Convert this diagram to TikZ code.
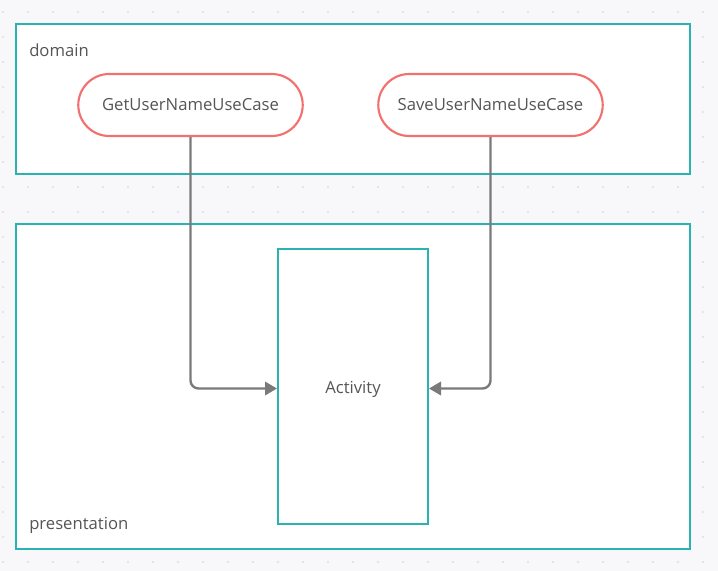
\documentclass[tikz,border=0pt]{standalone}
\usepackage{fontspec}
\setmainfont{Open Sans}
\usetikzlibrary{arrows.meta,positioning,shapes.misc}
\definecolor{BoxTeal}{HTML}{2BB3B1}
\definecolor{PillRed}{HTML}{F2716F}
\definecolor{LinkGray}{HTML}{7A7A7A}
\definecolor{TextGray}{HTML}{555555}
\definecolor{CanvasBg}{HTML}{F8F8FA}
\definecolor{GridDot}{HTML}{DDDDE4}

\tikzset{
  layerbox/.style={draw=BoxTeal, fill=white, line width=1.5pt, minimum width=505.5pt},
  usecase/.style={rounded rectangle, draw=PillRed, fill=white, line width=1.6pt,
                  minimum width=175pt, minimum height=46.5pt,
                  font=\fontsize{12.5}{14}\selectfont, text=TextGray},
  screen/.style={draw=BoxTeal, fill=white, line width=1.5pt,
                 minimum width=112.5pt, minimum height=206.25pt,
                 font=\fontsize{12.5}{14}\selectfont, text=TextGray},
  layerlabel/.style={anchor=west, inner sep=0pt, font=\fontsize{12.5}{14}\selectfont, text=TextGray},
  link/.style={draw=LinkGray, line width=1.8pt, rounded corners=6pt,
               -{Triangle[length=9pt, width=10pt]}}
}

\begin{document}
\begin{tikzpicture}[x=0.75pt, y=-0.75pt]
  \useasboundingbox (0,0) rectangle (718,571);
  \fill[CanvasBg] (0,0) rectangle (718,571);
  % dotted canvas
  \foreach \i in {0,...,28} {
    \foreach \j in {0,...,22} {
      \fill[GridDot] ({3+25*\i},{12+25*\j}) circle (1.2);
    }
  }
  % layers
  \node[layerbox, minimum height=112.5pt] (domain) at (353,99) {};
  \node[layerbox, minimum height=243.75pt] (presentation) at (353,386.5) {};
  \node[layerlabel] (domainlabel) at (29,50) {domain};
  \node[layerlabel] (presentationlabel) at (29,525) {presentation};
  % use cases
  \node[usecase] (getname) at (190.5,105) {GetUserNameUseCase};
  \node[usecase] (savename) at (490.5,105) {SaveUserNameUseCase};
  % activity
  \node[screen] (activity) at (353,386.5) {};
  \node[font=\fontsize{12.5}{14}\selectfont, text=TextGray] (activitylabel) at (353,389) {Activity};
  \draw[link] (getname.south) |- ([yshift=-1.5]activity.west);
  \draw[link] (savename.south) |- ([yshift=-1.5]activity.east);
\end{tikzpicture}
\end{document}
